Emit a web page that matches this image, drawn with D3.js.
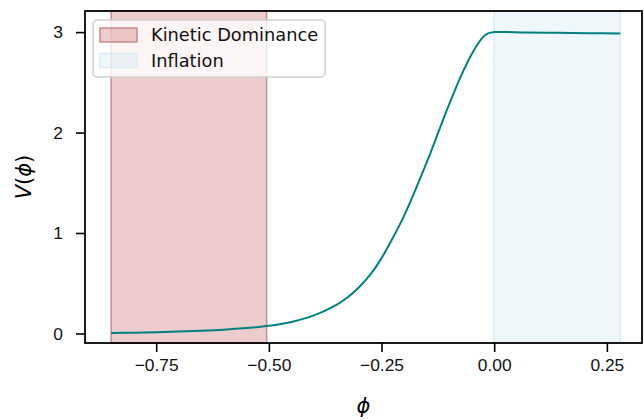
<!DOCTYPE html>
<html>
<head>
<meta charset="utf-8">
<script src="https://cdn.jsdelivr.net/npm/d3@7"></script>
<style>
  body { margin: 0; background: #fff; }
  svg { display: block; font-family: "DejaVu Sans", sans-serif; }
  .tick text { font-size: 17.4px; fill: #111; }
</style>
</head>
<body>
<div id="chart"></div>
<script>
// potential V(phi)
const phi = [-0.85, -0.8, -0.75, -0.7, -0.65, -0.6, -0.55, -0.5, -0.45, -0.4, -0.35, -0.325, -0.3, -0.275, -0.25, -0.225, -0.2, -0.15, -0.12, -0.1, -0.075, -0.05, -0.025, -0.0125, 0, 0.07, 0.14, 0.21, 0.28];
const V   = [0.005, 0.008, 0.013, 0.019, 0.027, 0.038, 0.054, 0.076, 0.115, 0.18, 0.285, 0.36, 0.46, 0.585, 0.75, 0.95, 1.17, 1.70, 2.05, 2.28, 2.55, 2.78, 2.95, 2.99, 3.0, 2.997, 2.993, 2.989, 2.985];

const spans = [
  { name: "Kinetic Dominance", from: -0.85, to: -0.505, fill: "#b93a40", op: 0.26, edge: "#c98a8d" },
  { name: "Inflation", from: 0.0, to: 0.28, fill: "#add8e6", op: 0.21, edge: "#d8edf3" }
];

const xTicks = [-0.75, -0.5, -0.25, 0, 0.25];
const yTicks = [0, 1, 2, 3];

const width = 644, height = 420;
const margin = { left: 85, right: 2, top: 11, bottom: 77 };

const svg = d3.select("#chart").append("svg")
    .attr("width", width)
    .attr("height", height);

const x = d3.scaleLinear()
    .domain([-0.908, 0.328])
    .range([margin.left, width - margin.right]);

const y = d3.scaleLinear()
    .domain([-0.095, 3.21])
    .range([height - margin.bottom, margin.top]);

// shaded regions
svg.append("g").selectAll("rect")
    .data(spans)
    .enter().append("rect")
        .attr("x", d => x(d.from))
        .attr("y", margin.top)
        .attr("width", d => x(d.to) - x(d.from))
        .attr("height", height - margin.bottom - margin.top)
        .attr("fill", d => d.fill)
        .attr("fill-opacity", d => d.op)
        .attr("stroke", d => d.edge)
        .attr("stroke-width", 1.5);

// the curve
const line = d3.line()
    .x((d, i) => x(phi[i]))
    .y(d => y(d))
    .curve(d3.curveCatmullRom.alpha(0.5));

svg.append("path")
    .datum(V)
    .attr("fill", "none")
    .attr("stroke", "#008080")
    .attr("stroke-width", 2)
    .attr("d", line);

// axes
const fmt = d => (d < 0 ? "\u2212" : "") + Math.abs(d).toFixed(2);

svg.append("g")
    .attr("transform", "translate(0," + (height - margin.bottom) + ")")
    .call(d3.axisBottom(x).tickValues(xTicks).tickFormat(fmt).tickSize(9).tickPadding(7))
    .call(g => g.select(".domain").remove())
    .selectAll("line").attr("stroke-width", 1.6).attr("stroke", "#000");

svg.append("g")
    .attr("transform", "translate(" + margin.left + ",0)")
    .call(d3.axisLeft(y).tickValues(yTicks).tickFormat(d3.format("d")).tickSize(9).tickPadding(13))
    .call(g => g.select(".domain").remove())
    .selectAll("line").attr("stroke-width", 1.6).attr("stroke", "#000");

// frame
svg.append("rect")
    .attr("x", margin.left)
    .attr("y", margin.top)
    .attr("width", width - margin.right - margin.left)
    .attr("height", height - margin.bottom - margin.top)
    .attr("fill", "none")
    .attr("stroke", "#000")
    .attr("stroke-width", 1.8);

// axis labels
svg.append("text")
    .attr("x", (margin.left + width - margin.right) / 2)
    .attr("y", 413)
    .attr("text-anchor", "middle")
    .style("font-size", "21px")
    .style("font-style", "italic")
    .text("\u03d5");

svg.append("text")
    .attr("transform", "translate(31," + ((margin.top + height - margin.bottom) / 2) + ") rotate(-90)")
    .attr("text-anchor", "middle")
    .style("font-size", "21px")
    .html("<tspan font-style='italic'>V</tspan>(<tspan font-style='italic'>\u03d5</tspan>)");

// legend
const legend = svg.append("g");

legend.append("rect")
    .attr("x", 93).attr("y", 20)
    .attr("width", 232).attr("height", 57)
    .attr("rx", 4)
    .attr("fill", "#fff").attr("fill-opacity", 0.8)
    .attr("stroke", "#d0d0d0").attr("stroke-width", 1.5);

const items = legend.selectAll("g.item")
    .data(spans)
    .enter().append("g")
        .attr("class", "item")
        .attr("transform", (d, i) => "translate(100," + (28 + i * 25.5) + ")");

items.append("rect")
    .attr("width", 37).attr("height", 14)
    .attr("fill", d => d.fill).attr("fill-opacity", d => d.op)
    .attr("stroke", d => d.edge).attr("stroke-width", 1.5);

items.append("text")
    .attr("x", 51).attr("y", 13)
    .style("font-size", "17.8px")
    .attr("fill", "#111")
    .text(d => d.name);
</script>
</body>
</html>
